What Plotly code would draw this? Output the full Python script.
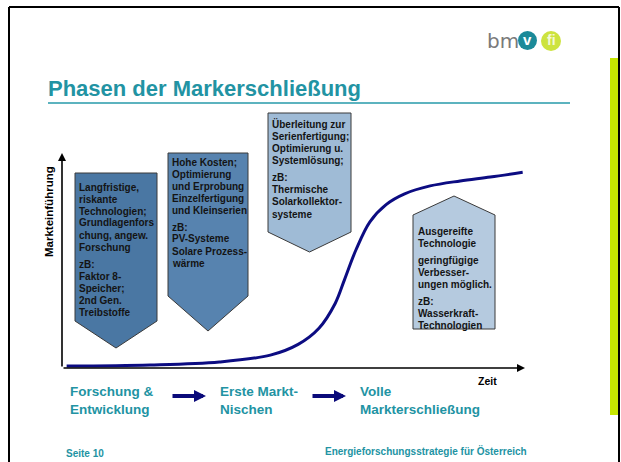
import plotly.graph_objects as go

W, H = 621, 462

# ---------------- data ----------------
zeit = [0.1, 1.9, 3.4, 4.5, 5.1, 5.55, 5.9, 6.1, 6.35, 6.65, 7.0, 7.4, 7.95, 8.6, 9.25, 9.95]
markteinfuehrung = [0.9, 1.4, 2.8, 6.0, 11.0, 18.5, 30.0, 41.0, 55.0, 68.0, 76.0, 81.0, 84.7, 87.0, 88.8, 91.0]

title_text = "Phasen der Markerschließung"
y_label = "Markteinführung"
x_label = "Zeit"
phase_labels = ["Forschung &<br>Entwicklung", "Erste Markt-<br>Nischen", "Volle<br>Markterschließung"]
box_texts = [
    [["Langfristige,", "riskante", "Technologien;", "Grundlagenfors", "chung, angew.", "Forschung"],
     ["zB:", "Faktor 8-", "Speicher;", "2nd Gen.", "Treibstoffe"]],
    [["Hohe Kosten;", "Optimierung", "und Erprobung", "Einzelfertigung", "und Kleinserien"],
     ["zB:", "PV-Systeme", "Solare Prozess-", "wärme"]],
    [["Überleitung zur", "Serienfertigung;", "Optimierung u.", "Systemlösung;"],
     ["zB:", "Thermische", "Solarkollektor-", "systeme"]],
    [["Ausgereifte", "Technologie"],
     ["geringfügige", "Verbesser-", "ungen möglich."],
     ["zB:", "Wasserkraft-", "Technologien"]],
]
footer_left = "Seite 10"
footer_right = "Energieforschungsstrategie für Österreich"

# ---------------- helpers (pixel -> paper) ----------------
def px(x):
    return x / W

def py(y):
    return 1 - y / H

FONT = "Liberation Sans, Arial, sans-serif"
TEAL = "#2293a3"

fig = go.Figure()

# S-curve on its own axes
fig.add_trace(go.Scatter(
    x=zeit, y=markteinfuehrung, mode="lines",
    line=dict(color="#0c0c82", width=3, shape="spline", smoothing=1.0),
    hoverinfo="skip", showlegend=False))

shapes = []
annotations = []

# slide frame (top, left, right edges)
for (x0, y0, x1, y1) in [(9, 7, 619, 7), (9, 7, 9, 462), (619, 7, 619, 462)]:
    shapes.append(dict(type="line", xref="paper", yref="paper",
                       x0=px(x0), x1=px(x1), y0=py(y0), y1=py(y1),
                       line=dict(color="black", width=2)))
# green side bar
shapes.append(dict(type="rect", xref="paper", yref="paper",
                   x0=px(610), x1=px(618), y0=py(415), y1=py(58),
                   line=dict(width=0), fillcolor="#c6e600"))
# title underline
shapes.append(dict(type="line", xref="paper", yref="paper",
                   x0=px(48), x1=px(570), y0=py(103), y1=py(103),
                   line=dict(color="#5cb3bf", width=2)))

# logo
annotations.append(dict(xref="paper", yref="paper", x=px(485), y=py(41), xanchor="left", yanchor="middle",
                        text="bm", showarrow=False,
                        font=dict(family="DejaVu Sans, sans-serif", size=20, color="#7a7a7a")))
shapes.append(dict(type="circle", xref="paper", yref="paper",
                   x0=px(518), x1=px(537), y0=py(50), y1=py(31),
                   line=dict(width=0), fillcolor="#1b8a99"))
annotations.append(dict(xref="paper", yref="paper", x=px(527.5), y=py(40), xanchor="center", yanchor="middle",
                        text="<b>v</b>", showarrow=False,
                        font=dict(family=FONT, size=15, color="white")))
shapes.append(dict(type="circle", xref="paper", yref="paper",
                   x0=px(541), x1=px(561), y0=py(51), y1=py(31),
                   line=dict(width=0), fillcolor="#cde33f"))
annotations.append(dict(xref="paper", yref="paper", x=px(551), y=py(40), xanchor="center", yanchor="middle",
                        text="<b>fi</b>", showarrow=False,
                        font=dict(family=FONT, size=14, color="#f4f9d8")))

# title
annotations.append(dict(xref="paper", yref="paper", x=px(46), y=py(89), xanchor="left", yanchor="middle",
                        text="<b>" + title_text + "</b>", showarrow=False,
                        font=dict(family=FONT, size=22, color=TEAL)))

# phase boxes (geometry)
def down_arrow(x0, x1, top, bottom, tip):
    xm = (x0 + x1) / 2
    return (f"M {px(x0)},{py(top)} L {px(x1)},{py(top)} L {px(x1)},{py(bottom)} "
            f"L {px(xm)},{py(tip)} L {px(x0)},{py(bottom)} Z")

def up_arrow(x0, x1, peak, corner, bottom):
    xm = (x0 + x1) / 2
    return (f"M {px(xm)},{py(peak)} L {px(x1)},{py(corner)} L {px(x1)},{py(bottom)} "
            f"L {px(x0)},{py(bottom)} L {px(x0)},{py(corner)} Z")

box_geo = [
    ("down", (75, 157, 173, 321, 348), "#4a77a3"),
    ("down", (168, 248, 153, 296, 331), "#5783af"),
    ("down", (268, 351, 113, 232, 252), "#9fbbd6"),
    ("up", (413, 495, 196, 215, 329), "#b5cadf"),
]
for kind, g, col in box_geo:
    path = down_arrow(*g) if kind == "down" else up_arrow(*g)
    shapes.append(dict(type="path", xref="paper", yref="paper", path=path,
                       fillcolor=col, line=dict(color="#3a3a3a", width=1)))

# text inside boxes: (left x, first line centre y, paragraph gap), one annotation per line
box_text_pos = [(77, 187, 5), (170, 162, 5), (270, 124, 6), (416, 231, 5)]
FS = 10
LSTEP = 12
for (x, y, gap), paras in zip(box_text_pos, box_texts):
    cy = y
    for para in paras:
        for t in para:
            annotations.append(dict(xref="paper", yref="paper", x=px(x), y=py(cy),
                                    xanchor="left", yanchor="middle",
                                    text="<b>" + t + "</b>", showarrow=False,
                                    font=dict(family=FONT, size=FS, color="#141414")))
            cy += LSTEP
        cy += gap

# axis arrows (drawn along the curve's own axes)
annotations.append(dict(xref="x", yref="y", axref="x", ayref="y", x=10, y=0, ax=0, ay=0, text="",
                        showarrow=True, arrowhead=2, arrowsize=1, arrowwidth=1.6, arrowcolor="black", standoff=0))
annotations.append(dict(xref="x", yref="y", axref="x", ayref="y", x=0, y=100, ax=0, ay=0, text="",
                        showarrow=True, arrowhead=2, arrowsize=1, arrowwidth=1.6, arrowcolor="black", standoff=0))

# axis labels
annotations.append(dict(xref="paper", yref="paper", x=px(487), y=py(381), xanchor="center", yanchor="middle",
                        text="<b>" + x_label + "</b>", showarrow=False,
                        font=dict(family=FONT, size=10.5, color="black")))
annotations.append(dict(xref="paper", yref="paper", x=px(49), y=py(212), xanchor="center", yanchor="middle",
                        text="<b>" + y_label + "</b>", showarrow=False, textangle=-90,
                        font=dict(family=FONT, size=11.5, color="black")))

# phase labels with arrows between them
phase_x = [68, 218, 358]
for xl, lab in zip(phase_x, phase_labels):
    annotations.append(dict(xref="paper", yref="paper", x=px(xl), y=py(400), xanchor="left", yanchor="middle",
                            text="<b>" + lab + "</b>", showarrow=False, align="left",
                            font=dict(family=FONT, size=13.5, color=TEAL)))
for x0, x1 in [(171, 206), (311, 346)]:
    annotations.append(dict(xref="paper", yref="paper", axref="pixel", ayref="pixel",
                            x=px(x1), y=py(396), ax=-(x1 - x0), ay=0, text="",
                            showarrow=True, arrowhead=2, arrowsize=0.6, arrowwidth=4,
                            arrowcolor="#0a0a7a", standoff=0))

# footer
annotations.append(dict(xref="paper", yref="paper", x=px(64), y=py(453), xanchor="left", yanchor="middle",
                        text="<b>" + footer_left + "</b>", showarrow=False,
                        font=dict(family=FONT, size=10, color=TEAL)))
annotations.append(dict(xref="paper", yref="paper", x=px(323), y=py(451), xanchor="left", yanchor="middle",
                        text="<b>" + footer_right + "</b>", showarrow=False,
                        font=dict(family=FONT, size=10, color=TEAL)))

fig.update_layout(
    width=W, height=H, margin=dict(l=0, r=0, t=0, b=0),
    paper_bgcolor="white", plot_bgcolor="rgba(0,0,0,0)",
    xaxis=dict(domain=[px(62), px(525)], range=[0, 10], visible=False, fixedrange=True),
    yaxis=dict(domain=[py(368), py(153)], range=[0, 100], visible=False, fixedrange=True),
    shapes=shapes, annotations=annotations, showlegend=False,
)

fig.write_html("out.html", config={"displayModeBar": False},
               post_script="document.body.style.margin='0';")
